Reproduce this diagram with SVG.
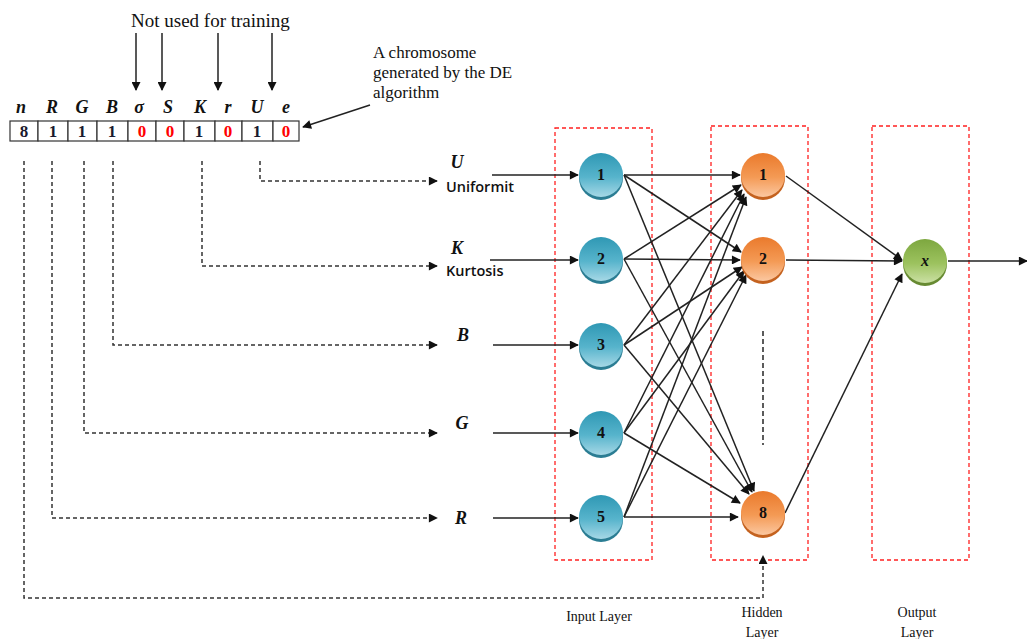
<svg xmlns="http://www.w3.org/2000/svg" width="1027" height="639" viewBox="0 0 1027 639">
<style>
.cell{fill:#fff;stroke:#333;stroke-width:1.2}
.val{font-family:"Liberation Serif",serif;font-weight:bold;font-size:17px;text-anchor:middle;fill:#1a1a2e}
.red{fill:#ff0000}
.sym{font-family:"Liberation Serif",serif;font-style:italic;font-weight:bold;font-size:18px;text-anchor:middle;fill:#111}
.serif{font-family:"Liberation Serif",serif;font-size:17px;fill:#111}
.big{font-size:19px}
.lay{font-family:"Liberation Serif",serif;font-size:14px;fill:#111;text-anchor:middle}
.sans{font-family:"Open Sans","Liberation Sans",sans-serif;font-size:14.5px;font-weight:600;fill:#111}
.nlab{font-family:"Liberation Serif",serif;font-weight:bold;font-size:16px;text-anchor:middle;fill:#111}
.box{fill:none;stroke:#ff2020;stroke-width:1.3;stroke-dasharray:4 3}
.dash{fill:none;stroke:#333;stroke-width:1.5;stroke-dasharray:4 3}
.ln{fill:none;stroke:#222;stroke-width:1.5}
</style>
<defs>
<marker id="ah" viewBox="0 0 10 10" refX="9" refY="5" markerWidth="11" markerHeight="9" markerUnits="userSpaceOnUse" orient="auto">
<path d="M0,0 L10,5 L0,10 z" fill="#111"/>
</marker>
<linearGradient id="gb" x1="0" y1="0" x2="0" y2="1"><stop offset="0" stop-color="#2F98B4"/><stop offset="0.55" stop-color="#57B4CC"/><stop offset="1" stop-color="#A6D8E6"/></linearGradient>
<linearGradient id="go" x1="0" y1="0" x2="0" y2="1"><stop offset="0" stop-color="#EA7A2C"/><stop offset="0.55" stop-color="#F49A55"/><stop offset="1" stop-color="#FBC7A0"/></linearGradient>
<linearGradient id="gg" x1="0" y1="0" x2="0" y2="1"><stop offset="0" stop-color="#7DA73F"/><stop offset="0.55" stop-color="#9CC25E"/><stop offset="1" stop-color="#CBE0A4"/></linearGradient>
</defs>

<g id="chromosome">
<text class="sym" x="21" y="113">n</text>
<text class="sym" x="52" y="113">R</text>
<text class="sym" x="82" y="113">G</text>
<text class="sym" x="112" y="113">B</text>
<text class="sym" x="139" y="113">σ</text>
<text class="sym" x="168" y="113">S</text>
<text class="sym" x="200" y="113">K</text>
<text class="sym" x="228" y="113">r</text>
<text class="sym" x="257" y="113">U</text>
<text class="sym" x="286" y="113">e</text>
<rect class="cell" x="10" y="121" width="28" height="20"/>
<rect class="cell" x="38" y="121" width="30" height="20"/>
<rect class="cell" x="68" y="121" width="29" height="20"/>
<rect class="cell" x="97" y="121" width="31" height="20"/>
<rect class="cell" x="128" y="121" width="28" height="20"/>
<rect class="cell" x="156" y="121" width="28" height="20"/>
<rect class="cell" x="184" y="121" width="31" height="20"/>
<rect class="cell" x="215" y="121" width="27" height="20"/>
<rect class="cell" x="242" y="121" width="31" height="20"/>
<rect class="cell" x="273" y="121" width="26" height="20"/>
<text class="val" x="24" y="137">8</text>
<text class="val" x="53" y="137">1</text>
<text class="val" x="82" y="137">1</text>
<text class="val" x="112" y="137">1</text>
<text class="val red" x="142" y="137">0</text>
<text class="val red" x="170" y="137">0</text>
<text class="val" x="199" y="137">1</text>
<text class="val red" x="228" y="137">0</text>
<text class="val" x="257" y="137">1</text>
<text class="val red" x="286" y="137">0</text>
</g>

<g id="note-not-used">
<text class="serif big" x="131" y="27">Not used for training</text>
</g>
<g id="note-chromosome">
<text class="serif" x="373" y="58">A chromosome</text>
<text class="serif" x="373" y="78">generated by the DE</text>
<text class="serif" x="373" y="98">algorithm</text>
</g>

<g id="layer-boxes">
<rect class="box" x="555" y="128" width="97" height="432"/>
<rect class="box" x="711" y="126" width="97" height="434"/>
<rect class="box" x="872" y="126" width="97" height="434"/>
</g>

<g id="input-labels">
<text class="sym" x="457" y="168">U</text>
<text class="sans" x="446" y="192">Uniformit</text>
<text class="sym" x="457" y="254">K</text>
<text class="sans" x="446" y="276">Kurtosis</text>
<text class="sym" x="463" y="341">B</text>
<text class="sym" x="462" y="429">G</text>
<text class="sym" x="461" y="524">R</text>
</g>

<g id="connectors">
<line class="ln" x1="136" y1="33" x2="136" y2="90" marker-end="url(#ah)"/>
<line class="ln" x1="162" y1="33" x2="162" y2="90" marker-end="url(#ah)"/>
<line class="ln" x1="218" y1="33" x2="218" y2="90" marker-end="url(#ah)"/>
<line class="ln" x1="272" y1="33" x2="272" y2="90" marker-end="url(#ah)"/>
<line class="ln" x1="370" y1="105" x2="303" y2="127" marker-end="url(#ah)"/>

<path class="dash" d="M260,161 V181 H437" marker-end="url(#ah)"/>
<path class="dash" d="M202,161 V266 H437" marker-end="url(#ah)"/>
<path class="dash" d="M113,161 V345 H437" marker-end="url(#ah)"/>
<path class="dash" d="M84,161 V433 H437" marker-end="url(#ah)"/>
<path class="dash" d="M52,161 V518 H437" marker-end="url(#ah)"/>
<path class="dash" d="M24,161 V598 H763 V556" marker-end="url(#ah)"/>
<line x1="763" y1="331" x2="763" y2="445" stroke="#333" stroke-width="1.6" stroke-dasharray="5 3"/>

<line class="ln" x1="492" y1="175" x2="578" y2="175" marker-end="url(#ah)"/>
<line class="ln" x1="490" y1="260" x2="578" y2="260" marker-end="url(#ah)"/>
<line class="ln" x1="493" y1="345" x2="578" y2="345" marker-end="url(#ah)"/>
<line class="ln" x1="493" y1="433" x2="578" y2="433" marker-end="url(#ah)"/>
<line class="ln" x1="493" y1="518" x2="578" y2="518" marker-end="url(#ah)"/>

<line class="ln" x1="624" y1="175" x2="740" y2="175" marker-end="url(#ah)"/>
<line class="ln" x1="624" y1="259" x2="741" y2="185" marker-end="url(#ah)"/>
<line class="ln" x1="624" y1="345" x2="742" y2="190" marker-end="url(#ah)"/>
<line class="ln" x1="624" y1="433" x2="744" y2="194" marker-end="url(#ah)"/>
<line class="ln" x1="624" y1="517" x2="746" y2="197" marker-end="url(#ah)"/>

<line class="ln" x1="624" y1="175" x2="741" y2="252" marker-end="url(#ah)"/>
<line class="ln" x1="624" y1="259" x2="740" y2="260" marker-end="url(#ah)"/>
<line class="ln" x1="624" y1="345" x2="742" y2="267" marker-end="url(#ah)"/>
<line class="ln" x1="624" y1="433" x2="744" y2="271" marker-end="url(#ah)"/>
<line class="ln" x1="624" y1="517" x2="746" y2="275" marker-end="url(#ah)"/>

<line class="ln" x1="624" y1="175" x2="754" y2="491" marker-end="url(#ah)"/>
<line class="ln" x1="624" y1="259" x2="752" y2="492" marker-end="url(#ah)"/>
<line class="ln" x1="624" y1="345" x2="749" y2="494" marker-end="url(#ah)"/>
<line class="ln" x1="624" y1="433" x2="740" y2="503" marker-end="url(#ah)"/>
<line class="ln" x1="624" y1="517" x2="738" y2="517" marker-end="url(#ah)"/>

<line class="ln" x1="786" y1="176" x2="902" y2="260" marker-end="url(#ah)"/>
<line class="ln" x1="786" y1="260" x2="902" y2="261" marker-end="url(#ah)"/>
<line class="ln" x1="785" y1="513" x2="902" y2="274" marker-end="url(#ah)"/>
<line class="ln" x1="948" y1="261" x2="1027" y2="261" marker-end="url(#ah)"/>
</g>

<g id="in1"><circle cx="601" cy="178" r="22" fill="#2B7D93"/><circle cx="601" cy="175" r="22" fill="url(#gb)"/><text class="nlab" x="601" y="180">1</text></g>
<g id="in2"><circle cx="601" cy="262" r="22" fill="#2B7D93"/><circle cx="601" cy="259" r="22" fill="url(#gb)"/><text class="nlab" x="601" y="264">2</text></g>
<g id="in3"><circle cx="601" cy="348" r="22" fill="#2B7D93"/><circle cx="601" cy="345" r="22" fill="url(#gb)"/><text class="nlab" x="601" y="350">3</text></g>
<g id="in4"><circle cx="601" cy="436" r="22" fill="#2B7D93"/><circle cx="601" cy="433" r="22" fill="url(#gb)"/><text class="nlab" x="601" y="438">4</text></g>
<g id="in5"><circle cx="601" cy="520" r="22" fill="#2B7D93"/><circle cx="601" cy="517" r="22" fill="url(#gb)"/><text class="nlab" x="601" y="522">5</text></g>

<g id="h1"><circle cx="763" cy="178" r="22" fill="#C4621F"/><circle cx="763" cy="175" r="22" fill="url(#go)"/><text class="nlab" x="763" y="180">1</text></g>
<g id="h2"><circle cx="763" cy="262" r="22" fill="#C4621F"/><circle cx="763" cy="259" r="22" fill="url(#go)"/><text class="nlab" x="763" y="264">2</text></g>
<g id="h8"><circle cx="763" cy="516" r="22" fill="#C4621F"/><circle cx="763" cy="513" r="22" fill="url(#go)"/><text class="nlab" x="763" y="518">8</text></g>

<g id="out"><circle cx="925" cy="264" r="22" fill="#678A32"/><circle cx="925" cy="261" r="22" fill="url(#gg)"/><text class="nlab" x="925" y="266" font-style="italic">x</text></g>

<g id="layer-labels">
<text class="lay" x="599" y="621">Input Layer</text>
<text class="lay" x="762" y="617">Hidden</text>
<text class="lay" x="762" y="637">Layer</text>
<text class="lay" x="917" y="617">Output</text>
<text class="lay" x="917" y="637">Layer</text>
</g>
</svg>
